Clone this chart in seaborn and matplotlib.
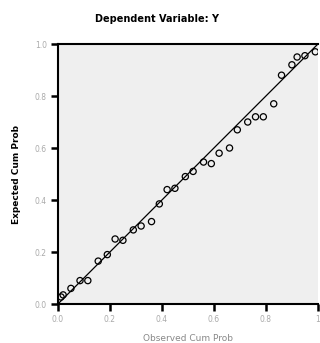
import matplotlib
matplotlib.use("Agg")
import matplotlib.pyplot as plt
import seaborn as sns
import pandas as pd

# Normal P-P plot of regression standardized residual
observed = [0.012, 0.02, 0.05, 0.085, 0.115, 0.155, 0.19, 0.22, 0.25, 0.29,
            0.32, 0.36, 0.39, 0.42, 0.45, 0.49, 0.52, 0.56, 0.59, 0.62,
            0.66, 0.69, 0.73, 0.76, 0.79, 0.83, 0.86, 0.90, 0.92, 0.95, 0.99]
expected = [0.027, 0.035, 0.06, 0.09, 0.09, 0.165, 0.19, 0.25, 0.245, 0.285,
            0.30, 0.317, 0.385, 0.44, 0.445, 0.49, 0.51, 0.546, 0.54, 0.58,
            0.60, 0.67, 0.70, 0.72, 0.72, 0.77, 0.88, 0.92, 0.95, 0.955, 0.97]
ref_line = [0.0, 1.0]
ticks = [0.0, 0.2, 0.4, 0.6, 0.8, 1.0]
xtick_labels = ["0.0", "0.2", "0.4", "0.6", "0.8", "1"]
ytick_labels = ["0.0", "0.2", "0.4", "0.6", "0.8", "1.0"]

sns.set_theme(style="ticks")
plt.rcParams["font.family"] = ["DejaVu Sans"]

df = pd.DataFrame({"observed": observed, "expected": expected})

fig = plt.figure(figsize=(3.2, 3.43), dpi=100)
ax = fig.add_axes([0.181, 0.1137, 0.8125, 0.758])
ax.set_facecolor("#efefef")

sns.lineplot(x=ref_line, y=ref_line, ax=ax, color="black", linewidth=0.9)
sns.scatterplot(data=df, x="observed", y="expected", ax=ax, marker="o", s=20,
                facecolor="none", edgecolor="black", linewidth=0.9, zorder=3)

ax.set_xlim(0, 1)
ax.set_ylim(0, 1)
ax.set_xticks(ticks)
ax.set_xticklabels(xtick_labels, fontsize=5.5, color="#aaaaaa")
ax.set_yticks(ticks)
ax.set_yticklabels(ytick_labels, fontsize=5.5, color="#aaaaaa")
ax.tick_params(axis="both", direction="out", length=5, width=1.8, color="black", pad=3)

for side in ["left", "bottom", "top"]:
    ax.spines[side].set_color("black")
    ax.spines[side].set_linewidth(1.5)
ax.spines["right"].set_visible(False)

ax.set_xlabel("Observed Cum Prob", fontsize=6.5, color="#888888", labelpad=7)
ax.set_ylabel("Expected Cum Prob", fontsize=6.5, color="black", fontweight="bold", labelpad=10)
fig.text(0.49, 0.945, "Dependent Variable: Y", ha="center", va="center",
         fontsize=7, fontweight="bold", color="black")

fig.savefig("out.png", dpi=100, facecolor="white")
